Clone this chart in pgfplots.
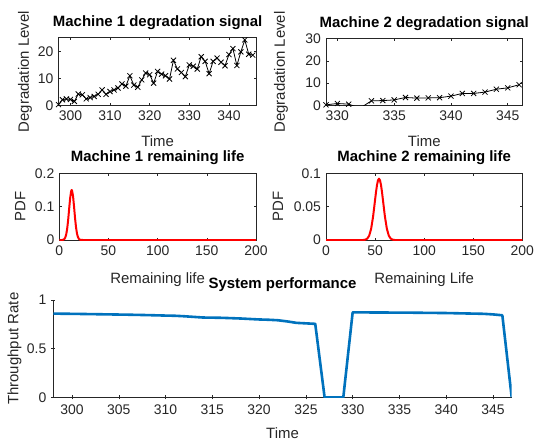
\documentclass[border=0pt]{standalone}
\usepackage{fontspec}
\setmainfont{Liberation Sans}
\usepackage{pgfplots}
\pgfplotsset{compat=1.18}
\definecolor{mblue}{rgb}{0,0.447,0.741}
\definecolor{axgray}{rgb}{0.15,0.15,0.15}

\pgfplotsset{
  mstyle/.style={
    scale only axis,
    anchor=north west,
    axis line style={axgray, line width=0.5bp},
    tick style={axgray, line width=0.5bp},
    major tick length=2.5bp,
    tick align=inside,
    scaled ticks=false,
    ticklabel style={font=\fontsize{14}{15}\selectfont, text=axgray,
      /pgf/number format/fixed, /pgf/number format/precision=2},
    xticklabel style={yshift=-2bp},
    yticklabel style={xshift=-1.5bp},
    label style={font=\fontsize{15}{16}\selectfont, text=axgray},
    title style={font=\bfseries\fontsize{15}{16}\selectfont,
      at={(axis description cs:0.5,1)}, anchor=base, yshift=5.5bp},
    xlabel style={anchor=base},
    ylabel style={anchor=base, rotate=0},
    /pgf/number format/assume math mode=true,
  },
  degr/.style={black, line width=0.8bp, mark=x, mark size=3.6bp,
    mark options={line width=0.8bp}},
  pdf/.style={red, line width=2bp, line join=round},
}

\begin{document}
\begin{tikzpicture}
\path[use as bounding box] (0,0) rectangle (535bp,-441bp);

% Machine 1 degradation signal
\begin{axis}[mstyle, at={(58.5bp,-37.7bp)}, width=198.2bp, height=68bp,
  xmin=297, xmax=347, ymin=0, ymax=25,
  xtick={300,310,320,330,340}, ytick={0,10,20},
  title={Machine 1 degradation signal},
  xlabel={Time}, xlabel style={at={(axis description cs:0.5,-0.603)}},
  ylabel={Degradation Level}, ylabel style={at={(axis description cs:-0.149,0.5)}}]
\addplot[degr] coordinates {
(297,0.4) (298,2.2) (299,2.5) (300,2.3) (301,1.6) (302,4.3) (303,4.0)
(304,2.5) (305,3.0) (306,3.4) (307,4.2) (308,5.8) (309,4.2) (310,5.2)
(311,5.8) (312,6.5) (313,8.0) (314,7.2) (315,11.0) (316,7.6) (317,6.8)
(318,9.5) (319,12.0) (320,11.4) (321,8.3) (322,12.6) (323,11.6) (324,11.0)
(325,9.8) (326,16.7) (327,13.5) (328,12.2) (329,10.7) (330,15.0) (331,14.5)
(332,13.5) (333,18.0) (334,16.3) (335,11.8) (336,16.3) (337,17.5) (338,16.0)
(339,14.7) (340,18.8) (341,21.0) (342,14.8) (343,19.8) (344,24.2) (345,18.9)
(346,18.6)
};
\end{axis}

% Machine 2 degradation signal
\begin{axis}[mstyle, at={(326bp,-38.5bp)}, width=196.5bp, height=67bp,
  xmin=329, xmax=346.3, ymin=0, ymax=30,
  xtick={330,335,340,345}, ytick={0,10,20,30},
  title={Machine 2 degradation signal},
  xlabel={Time}, xlabel style={at={(axis description cs:0.5,-0.612)}},
  ylabel={Degradation Level}, ylabel style={at={(axis description cs:-0.209,0.5)}}]
\addplot[degr] coordinates {
(329,0.3) (330,0.9) (331,0.6) (332,-1.2) (333,2.1) (334,2.2) (335,2.5)
(336,3.6) (337,3.3) (338,3.4) (339,3.5) (340,4.2) (341,5.4) (342,5.4)
(343,6.0) (344,7.3) (345,7.9) (346,9.3)
};
\end{axis}

% Machine 1 remaining life
\begin{axis}[mstyle, at={(59.3bp,-173.3bp)}, width=196.7bp, height=66.7bp,
  xmin=0, xmax=200, ymin=0, ymax=0.2,
  xtick={0,50,100,150,200}, ytick={0,0.1,0.2},
  title={Machine 1 remaining life},
  xlabel={Remaining life}, xlabel style={at={(axis description cs:0.5,-0.645)}},
  ylabel={PDF}, ylabel style={at={(axis description cs:-0.173,0.5)}}]
\addplot[pdf] coordinates {
(0,0) (3,0) (4,0.0008) (5,0.0025) (6,0.0069) (7,0.0164) (8,0.0337) (9,0.060)
(10,0.093) (11,0.125) (12,0.146) (12.6,0.150) (13,0.148) (14,0.131) (15,0.100)
(16,0.066) (17,0.038) (18,0.019) (19,0.0083) (20,0.0031) (21,0.001)
(22,0.0003) (24,0) (200,0)
};
\end{axis}

% Machine 2 remaining life
\begin{axis}[mstyle, at={(326bp,-173.3bp)}, width=196.3bp, height=66.7bp,
  xmin=0, xmax=200, ymin=0, ymax=0.1,
  xtick={0,50,100,150,200}, ytick={0,0.05,0.1},
  title={Machine 2 remaining life},
  xlabel={Remaining Life}, xlabel style={at={(axis description cs:0.5,-0.645)}},
  ylabel={PDF}, ylabel style={at={(axis description cs:-0.219,0.5)}}]
\addplot[pdf] coordinates {
(0,0) (38,0) (40,0.0005) (42,0.0020) (44,0.0065) (46,0.0169) (48,0.0354)
(50,0.0602) (51,0.0725) (52,0.0827) (53,0.0896) (54,0.092) (55,0.0896)
(56,0.0827) (57,0.0725) (58,0.0602) (60,0.0354) (62,0.0169) (64,0.0065)
(66,0.0020) (68,0.0005) (70,0) (200,0)
};
\end{axis}

% System performance
\begin{axis}[mstyle, at={(53.3bp,-300bp)}, width=458.4bp, height=97.3bp,
  axis lines=left, axis line style={-},
  major tick length=4bp,
  xmin=298, xmax=347, ymin=0, ymax=1,
  xtick={300,305,...,345}, ytick={0,0.5,1},
  title={System performance},
  xlabel={Time}, xlabel style={at={(axis description cs:0.5,-0.421)}},
  ylabel={Throughput Rate}, ylabel style={at={(axis description cs:-0.076,0.5)}}]
\addplot[mblue, line width=2.6bp, line join=round] coordinates {
(298,0.860) (300,0.858) (302,0.855) (304,0.852) (306,0.849) (308,0.845)
(310,0.840) (311,0.838) (312,0.833) (314,0.820) (316,0.817) (318,0.810)
(320,0.800) (321,0.797) (322,0.792) (323,0.780) (324,0.765) (325,0.760)
(326,0.755) (327,0) (328,0) (329,0) (330,0.873) (332,0.872) (334,0.871)
(336,0.870) (338,0.868) (340,0.866) (342,0.862) (344,0.858) (345,0.852)
(346,0.843) (347,0)
};
\end{axis}
\end{tikzpicture}
\end{document}
